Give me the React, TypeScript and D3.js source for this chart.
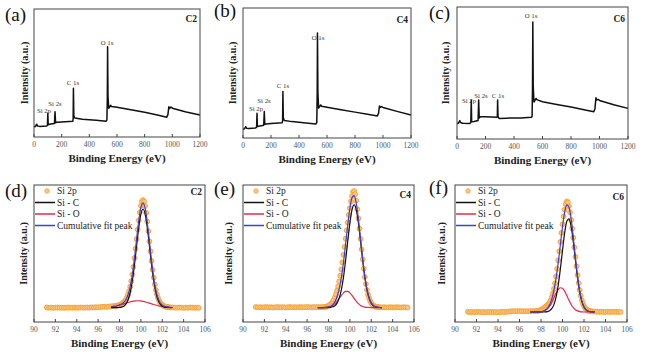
import React from 'react';
import * as d3 from 'd3';

// ---------- DATA ----------
// Survey spectra (binding energy grid shared by panels a-c), intensity in % of frame height
const surveyBE = [0, 10, 20, 25, 40, 90, 97, 100, 103, 120, 148, 152, 156, 165, 200, 280, 283, 285, 288, 295, 350, 450, 520, 527, 530, 532, 535, 540, 555, 560, 600, 700, 800, 900, 960, 968, 975, 980, 990, 1000, 1100, 1200];
const surveyC2 = [8, 8.2, 10, 8.6, 8.3, 8.5, 9, 18.5, 9.6, 10.2, 10.6, 19.8, 11.2, 11.5, 11.8, 12.3, 14, 38, 16.5, 14.8, 13.9, 13, 12.4, 13.2, 30, 70.6, 32, 22.5, 24.8, 23.8, 23.2, 21.3, 19.3, 17, 15.5, 17.5, 23.7, 22.3, 23.4, 22.5, 19.6, 17.2];
const surveyC4 = [6.7, 7, 8.7, 7.5, 7.4, 7.7, 8.2, 19, 8.8, 9.3, 9.8, 20.3, 10.5, 10.8, 11.2, 11.8, 13.5, 35.7, 15.5, 13.4, 12.6, 11.6, 10.8, 11.8, 35, 80.7, 35, 23, 25.4, 24.5, 23.7, 21.8, 19.9, 18, 17, 19, 24.7, 23.5, 24.2, 23.5, 20.5, 17.7];
const surveyC6 = [11.8, 12, 13.9, 12.5, 12, 11.8, 12.5, 29.5, 13, 13.2, 14, 29.5, 16, 16.9, 16.8, 16.4, 17, 29.5, 17, 15.6, 15.8, 16, 16.4, 17, 40, 88.7, 40, 28, 30.7, 29.8, 28.2, 26.2, 24.2, 22, 20.7, 23, 31.2, 29.5, 30, 29.2, 26, 23.2];
const surveyTicks = [0, 200, 400, 600, 800, 1000, 1200];
const peakNames = ['Si 2p', 'Si 2s', 'C 1s', 'O 1s'];

// Si 2p high-resolution spectra
const si2pTicks = [90, 92, 94, 96, 98, 100, 102, 104, 106];
const dataBE_left = d3.range(91.2, 97.45, 0.2);
const dataBE_peak = d3.range(97.6, 102.85, 0.1);
const dataBE_right = d3.range(103.0, 105.45, 0.2);
const fitBE_C2 = d3.range(97.2, 102.96, 0.25);
const fitBE_C4C6 = d3.range(97.0, 103.01, 0.2);

const si2pC2_left = [10.6, 10.4, 10.5, 10.3, 10.5, 10.6, 10.4, 10.5, 10.3, 10.4, 10.6, 10.5, 10.4, 10.5, 10.3, 10.5, 10.6, 10.4, 10.5, 10.6, 10.5, 10.7, 10.6, 10.8, 10.7, 10.9, 11.0, 11.1, 11.0, 11.3, 11.4, 11.6];
const si2pC2_peak = [11.8, 11.9, 12.0, 12.2, 12.4, 12.7, 13.2, 13.7, 14.4, 15.2, 16.3, 17.9, 19.9, 22.5, 25.8, 29.8, 34.7, 40.3, 46.7, 53.5, 60.6, 67.5, 74.2, 80.0, 84.8, 88.0, 89.0, 88.0, 84.6, 79.6, 73.4, 66.3, 58.8, 51.6, 44.6, 38.1, 32.4, 27.4, 23.4, 20.1, 17.5, 15.6, 14.1, 13.1, 12.4, 11.8, 11.5, 11.2, 11.0, 10.9, 10.8, 10.7, 10.6];
const si2pC2_right = [10.6, 10.5, 10.4, 10.6, 10.5, 10.3, 10.5, 10.4, 10.6, 10.5, 10.4, 10.5, 10.3];
const siC_C2 = [10.5, 10.5, 10.5, 10.6, 10.9, 11.8, 14.4, 19.9, 30.1, 45.1, 62.5, 76.9, 82.5, 76.9, 62.5, 45.1, 30.1, 19.9, 14.4, 11.8, 10.9, 10.6, 10.5, 10.5];
const siO_C2 = [11.1, 11.4, 11.7, 12.2, 12.8, 13.4, 14.0, 14.6, 15.1, 15.4, 15.5, 15.4, 15.1, 14.6, 14.0, 13.4, 12.8, 12.2, 11.7, 11.4, 11.1, 10.9, 10.7, 10.6];
const cum_C2 = [11.1, 11.4, 11.7, 12.3, 13.2, 14.7, 17.9, 24.0, 34.6, 50.0, 67.5, 81.8, 87.0, 81.0, 66.0, 48.0, 32.4, 21.6, 15.6, 12.7, 11.5, 11.0, 10.7, 10.6];

const si2pC4_left = [10.9, 10.7, 10.8, 10.6, 10.8, 10.9, 10.7, 10.8, 10.6, 10.7, 10.9, 10.8, 10.7, 10.8, 10.6, 10.8, 10.9, 10.7, 10.8, 10.7, 10.8, 10.9, 10.7, 10.8, 10.9, 10.8, 10.7, 10.9, 10.8, 10.9, 10.8, 10.9];
const si2pC4_peak = [10.9, 11.0, 11.2, 11.4, 11.8, 12.3, 12.9, 13.8, 14.9, 16.3, 18.0, 20.2, 22.9, 26.0, 29.6, 33.8, 38.4, 43.5, 49.0, 54.8, 60.8, 66.8, 72.6, 78.1, 83.1, 87.8, 91.8, 95.0, 95.6, 93.2, 88.6, 82.3, 75.6, 68.2, 60.6, 53.0, 45.7, 38.9, 32.9, 27.7, 23.4, 20.0, 17.3, 15.3, 13.8, 12.8, 12.0, 11.5, 11.2, 11.0, 10.9, 10.8, 10.7];
const si2pC4_right = [10.7, 10.8, 10.6, 10.7, 10.8, 10.6, 10.7, 10.8, 10.7, 10.6, 10.8, 10.7, 10.6];
const siC_C4 = [10.5, 10.5, 10.5, 10.5, 10.5, 10.6, 10.7, 11.1, 11.9, 13.8, 17.4, 23.4, 32.6, 44.9, 58.9, 72.2, 81.9, 85.5, 81.9, 72.2, 58.9, 44.9, 32.6, 23.4, 17.4, 13.8, 11.9, 11.1, 10.7, 10.6, 10.5];
const siO_C4 = [10.5, 10.5, 10.5, 10.6, 10.7, 10.9, 11.3, 12.1, 13.4, 15.1, 17.2, 19.4, 21.3, 22.4, 22.4, 21.3, 19.4, 17.2, 15.1, 13.4, 12.1, 11.3, 10.9, 10.7, 10.6, 10.5, 10.5, 10.5, 10.5, 10.5, 10.5];
const cum_C4 = [10.5, 10.5, 10.5, 10.6, 10.7, 11.0, 11.5, 12.7, 14.8, 18.4, 24.1, 32.3, 43.4, 56.8, 70.8, 83.0, 90.8, 92.2, 86.5, 75.1, 60.5, 45.7, 33.0, 23.6, 17.5, 13.8, 11.9, 11.1, 10.7, 10.6, 10.5];

const si2pC6_left = [7.4, 7.2, 7.3, 7.1, 7.3, 7.4, 7.2, 7.3, 7.1, 7.2, 7.4, 7.3, 7.2, 7.3, 7.1, 7.3, 7.4, 7.3, 7.4, 7.6, 7.8, 7.9, 7.8, 7.9, 8.0, 7.9, 7.8, 7.9, 7.8, 7.9, 7.9, 8.0];
const si2pC6_peak = [8.0, 8.1, 8.3, 8.5, 8.8, 9.2, 9.7, 10.3, 11.0, 11.7, 12.4, 13.2, 14.0, 15.8, 18.0, 20.8, 24.2, 28.3, 33.2, 38.8, 45.0, 51.6, 58.4, 65.0, 71.3, 77.0, 82.0, 86.0, 88.0, 87.2, 84.5, 80.0, 74.5, 68.3, 61.5, 54.5, 47.5, 40.6, 34.2, 28.4, 23.4, 19.2, 15.9, 13.4, 11.5, 10.2, 9.3, 8.7, 8.3, 8.0, 7.9, 7.8, 7.7];
const si2pC6_right = [7.6, 7.5, 7.4, 7.5, 7.3, 7.4, 7.5, 7.3, 7.4, 7.5, 7.3, 7.4, 7.3];
const siC_C6 = [7.3, 7.3, 7.3, 7.3, 7.3, 7.3, 7.3, 7.4, 7.6, 8.3, 9.7, 12.7, 18.2, 26.8, 38.6, 52.2, 65.0, 73.5, 75.3, 69.9, 58.9, 45.3, 32.4, 22.1, 15.1, 11.0, 8.9, 7.9, 7.5, 7.4, 7.3];
const siO_C6 = [7.3, 7.3, 7.3, 7.3, 7.4, 7.5, 7.8, 8.5, 9.6, 11.5, 14.3, 17.6, 21.0, 23.7, 25.0, 24.6, 22.5, 19.3, 15.9, 12.8, 10.5, 9.0, 8.1, 7.6, 7.4, 7.3, 7.3, 7.3, 7.3, 7.3, 7.3];
const cum_C6 = [7.3, 7.3, 7.3, 7.3, 7.4, 7.5, 7.8, 8.6, 9.9, 12.5, 16.7, 23.0, 31.9, 43.2, 56.3, 69.5, 80.2, 85.5, 83.9, 75.4, 62.1, 47.0, 33.2, 22.4, 15.2, 11.0, 8.9, 7.9, 7.5, 7.4, 7.3];

const legendLabels = ['Si 2p', 'Si - C', 'Si - O', 'Cumulative fit peak'];

// ---------- STYLE / LAYOUT ----------
const FONT = 'Liberation Serif, DejaVu Serif, serif';
const C_ORANGE = '#f6a43c';
const C_ORANGE_FILL = '#fcc77e';
const C_BLACK = '#111111';
const C_RED = '#e8284a';
const C_BLUE = '#3f3fd8';

type Frame = {
  x0: number; x1: number; y0: number; y1: number;
  label: string; lx: number; ly: number;
  tag: string; tagY: number; ylabX: number;
};

const surveyFrames: Frame[] = [
  { x0: 34, x1: 200, y0: 9, y1: 137, label: '(a)', lx: 5, ly: 21, tag: 'C2', tagY: 22, ylabX: 26 },
  { x0: 243, x1: 411, y0: 8, y1: 138, label: '(b)', lx: 214, ly: 17, tag: 'C4', tagY: 23, ylabX: 234 },
  { x0: 457, x1: 628, y0: 7, y1: 139, label: '(c)', lx: 429, ly: 19, tag: 'C6', tagY: 22, ylabX: 447 },
];
// label pixel positions [cx, baseline] for Si 2p, Si 2s, C 1s, O 1s
const surveyLabelPos = [
  [[44, 113], [55, 106], [73, 85], [107, 45]],
  [[256, 111], [264, 103], [283, 88], [318, 40]],
  [[469, 103], [481, 98], [498, 98], [531, 18]],
];
const surveyValues = [surveyC2, surveyC4, surveyC6];

const fitFrames: Frame[] = [
  { x0: 34, x1: 205, y0: 185, y1: 322, label: '(d)', lx: 5, ly: 197, tag: 'C2', tagY: 195, ylabX: 25 },
  { x0: 243, x1: 414, y0: 185, y1: 322, label: '(e)', lx: 214, ly: 195, tag: 'C4', tagY: 198, ylabX: 230 },
  { x0: 455, x1: 627, y0: 185, y1: 322, label: '(f)', lx: 429, ly: 194, tag: 'C6', tagY: 200, ylabX: 443 },
];
const fitSets = [
  { left: si2pC2_left, peak: si2pC2_peak, right: si2pC2_right, fitBE: fitBE_C2, siC: siC_C2, siO: siO_C2, cum: cum_C2 },
  { left: si2pC4_left, peak: si2pC4_peak, right: si2pC4_right, fitBE: fitBE_C4C6, siC: siC_C4, siO: siO_C4, cum: cum_C4 },
  { left: si2pC6_left, peak: si2pC6_peak, right: si2pC6_right, fitBE: fitBE_C4C6, siC: siC_C6, siO: siO_C6, cum: cum_C6 },
];

const txt = { fontFamily: FONT } as React.CSSProperties;

function FrameAxes({ f, x, ticks }: { f: Frame; x: d3.ScaleLinear<number, number>; ticks: number[] }) {
  const cx = (f.x0 + f.x1) / 2;
  const cy = (f.y0 + f.y1) / 2;
  return (
    <g>
      <rect x={f.x0} y={f.y0} width={f.x1 - f.x0} height={f.y1 - f.y0} fill="none" stroke="#444" strokeWidth={1} />
      {ticks.map((t) => (
        <g key={t}>
          <line x1={x(t)} x2={x(t)} y1={f.y1} y2={f.y1 - 3} stroke="#444" strokeWidth={1} />
          <text style={txt} x={x(t)} y={f.y1 + 9.5} fontSize={7.5} fill="#555" textAnchor="middle">{t}</text>
        </g>
      ))}
      <text style={txt} x={cx} y={f.y1 + 25} fontSize={11} fontWeight="bold" fill="#222" textAnchor="middle">Binding Energy (eV)</text>
      <text style={txt} transform={`translate(${f.ylabX},${cy}) rotate(-90)`} fontSize={10} fontWeight="bold" fill="#222" textAnchor="middle" dominantBaseline="middle">Intensity (a.u.)</text>
      <text style={txt} x={f.lx} y={f.ly} fontSize={19} fill="#111">{f.label}</text>
      <text style={txt} x={f.x1 - 3} y={f.tagY} fontSize={9.5} fontWeight="bold" fill="#222" textAnchor="end">{f.tag}</text>
    </g>
  );
}

function Survey({ f, values, labels }: { f: Frame; values: number[]; labels: number[][] }) {
  const x = d3.scaleLinear().domain([0, 1200]).range([f.x0, f.x1]);
  const y = d3.scaleLinear().domain([0, 100]).range([f.y1, f.y0]);
  const line = d3.line<number>().x((_, i) => x(surveyBE[i])).y((d) => y(d));
  return (
    <g>
      <path d={line(values) || ''} fill="none" stroke={C_BLACK} strokeWidth={1.5} strokeLinejoin="round" />
      {peakNames.map((n, i) => (
        <text style={txt} key={n} x={labels[i][0]} y={labels[i][1]} fontSize={6.8} fill="#333" textAnchor="middle">{n}</text>
      ))}
      <FrameAxes f={f} x={x} ticks={surveyTicks} />
    </g>
  );
}

function Fit({ f, s }: { f: Frame; s: typeof fitSets[number] }) {
  const x = d3.scaleLinear().domain([90, 106]).range([f.x0, f.x1]);
  const y = d3.scaleLinear().domain([0, 100]).range([f.y1, f.y0]);
  const pts: [number, number][] = [
    ...dataBE_left.map((b, i) => [b, s.left[i]] as [number, number]),
    ...dataBE_peak.map((b, i) => [b, s.peak[i]] as [number, number]),
    ...dataBE_right.map((b, i) => [b, s.right[i]] as [number, number]),
  ];
  const line = d3.line<number>().x((_, i) => x(s.fitBE[i])).y((d) => y(d)).curve(d3.curveMonotoneX);
  const lx = f.x0 + 1;
  const rows = [f.y0 + 6, f.y0 + 17.5, f.y0 + 29, f.y0 + 40.5];
  const legendColors = [C_ORANGE, C_BLACK, C_RED, C_BLUE];
  return (
    <g>
      {pts.map(([b, v], i) => (
        <circle key={i} cx={x(b)} cy={y(v)} r={2.4} fill={C_ORANGE_FILL} stroke={C_ORANGE} strokeWidth={1} />
      ))}
      <path d={line(s.siO) || ''} fill="none" stroke={C_RED} strokeWidth={1.2} />
      <path d={line(s.siC) || ''} fill="none" stroke={C_BLACK} strokeWidth={1.2} />
      <path d={line(s.cum) || ''} fill="none" stroke={C_BLUE} strokeWidth={1.2} />
      {legendLabels.map((t, i) => (
        <g key={t}>
          {i === 0 ? (
            <circle cx={lx + 12} cy={rows[i]} r={2.2} fill={C_ORANGE_FILL} stroke={C_ORANGE} strokeWidth={0.9} />
          ) : (
            <line x1={lx} x2={lx + 20} y1={rows[i]} y2={rows[i]} stroke={legendColors[i]} strokeWidth={1.5} />
          )}
          <text style={txt} x={lx + 22} y={rows[i]} dy="0.33em" fontSize={9.5} fill="#222">{t}</text>
        </g>
      ))}
      <FrameAxes f={f} x={x} ticks={si2pTicks} />
    </g>
  );
}

export default function App() {
  return (
    <svg width={650} height={357} viewBox="0 0 650 357"
      style={{ position: 'absolute', left: 0, top: 0, background: '#fff', fontFamily: FONT }}>
      <rect x={0} y={0} width={650} height={357} fill="#fff" />
      {surveyFrames.map((f, i) => (
        <Survey key={f.label} f={f} values={surveyValues[i]} labels={surveyLabelPos[i]} />
      ))}
      {fitFrames.map((f, i) => (
        <Fit key={f.label} f={f} s={fitSets[i]} />
      ))}
    </svg>
  );
}
